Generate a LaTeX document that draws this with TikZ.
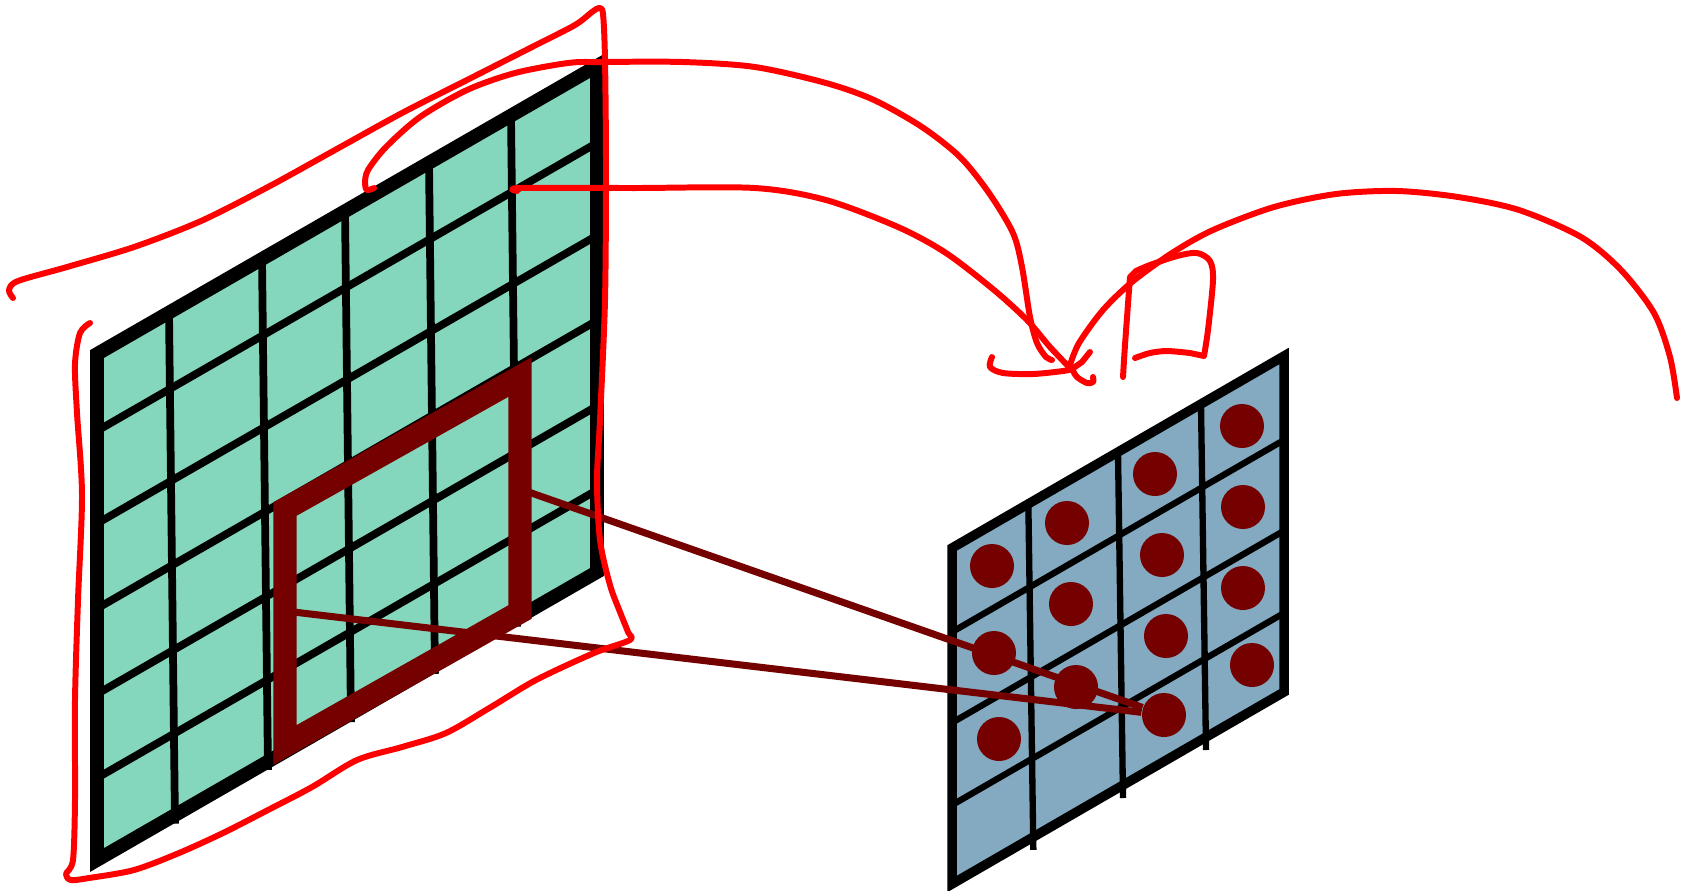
\documentclass[tikz,border=0pt]{standalone}
\usetikzlibrary{calc}
\definecolor{inputgreen}{RGB}{132,215,188}
\definecolor{featureblue}{RGB}{131,170,192}
\definecolor{darkmaroon}{RGB}{117,0,0}
\definecolor{inkred}{RGB}{255,0,0}

\begin{document}
\begin{tikzpicture}[
        x=0.01cm, y=-0.01cm,
        inputedge/.style={draw=black, line width=3.9pt},
        inputline/.style={draw=black, line width=2.2pt},
        featureedge/.style={draw=black, line width=2.7pt},
        featureline/.style={draw=black, line width=1.8pt},
        kernel/.style={draw=darkmaroon, line width=6.6pt},
        link/.style={draw=darkmaroon, line width=2pt},
        unit/.style={circle, fill=darkmaroon, inner sep=0pt, minimum size=0.44cm},
        ink/.style={draw=inkred, line width=1.7pt, line cap=round, line join=round}
    ]
    \useasboundingbox (0,0) rectangle (1690,890);

    \coordinate (b-tl) at (952,548);
    \coordinate (b-tr) at (1284,356);
    \coordinate (b-br) at (1284,692);
    \coordinate (b-bl) at (952,884);
    \fill[featureblue] (b-tl) -- (b-tr) -- (b-br) -- (b-bl) -- cycle;
    \foreach \t in {0.23,0.5,0.75}
        \draw[featureline] ($(b-tl)!\t!(b-tr)$) -- ($(b-bl)!\t!(b-br)+(5,10)$);
    \foreach \t in {0.25,0.52,0.765}
        \draw[featureline] ($(b-tl)!\t!(b-bl)$) -- ($(b-tr)!\t!(b-br)$);
    \draw[featureedge] (b-tl) -- (b-tr) -- (b-br) -- (b-bl) -- cycle;

    \foreach \n/\px/\py in {11/992/566, 12/994/653, 13/999/739,
            21/1067/523, 22/1071/604, 23/1076/687,
            31/1155/474, 32/1162/555, 33/1166/636, 34/1164/715,
            41/1242/426, 42/1243/507, 43/1243/588, 44/1252/665}
        \node[unit] (n\n) at (\px,\py) {};

    \coordinate (g-tl) at (97,354);
    \coordinate (g-tr) at (597,66);
    \coordinate (g-br) at (597,572);
    \coordinate (g-bl) at (97,860);
    \fill[inputgreen] (g-tl) -- (g-tr) -- (g-br) -- (g-bl) -- cycle;
    \foreach \t in {0.144,0.33,0.496,0.664,0.828}
        \draw[inputline] ($(g-tl)!\t!(g-tr)$) -- ($(g-bl)!\t!(g-br)+(6,5)$);
    \foreach \t in {0.152,0.335,0.503,0.672,0.838}
        \draw[inputline] ($(g-tl)!\t!(g-bl)$) -- ($(g-tr)!\t!(g-br)$);
    \draw[inputedge] (g-tl) -- (g-tr) -- (g-br) -- (g-bl) -- cycle;

    \coordinate (fr-a) at (520,489);
    \coordinate (fr-b) at (285,611);
    \draw[link] (fr-a) -- (n34);
    \draw[link] (fr-b) -- (n34);
    \draw[kernel] (285,509) -- (520,377) -- (520,612) -- (285,745) -- cycle;

    \draw[ink] plot[smooth, tension=0.5] coordinates {(13,298) (9,290) (18,281) (67,267) (134,247) (201,221) (268,187) (335,150) (402,113) (469,79) (536,45) (575,25) (592,12) (599,8) (603,14) (605,60) (606,167) (605,300) (600,420) (597,480) (600,540) (610,585) (620,612) (628,632) (630,640) (594,653) (536,680) (491,707) (446,733) (402,747) (357,760) (312,787) (268,810) (223,833) (179,853) (134,870) (89,878) (71,880) (66,874) (73,860) (75,800) (75,700) (78,600) (82,495) (77,413) (75,364) (80,333) (90,323)};
    \draw[ink] plot[smooth, tension=0.5] coordinates {(374,188) (367,190) (365,183) (368,170) (386,147) (420,117) (467,90) (515,73) (568,63) (601,62) (683,62) (755,67) (826,83) (874,100) (922,127) (960,157) (989,193) (1013,233) (1022,267) (1030,317) (1037,343) (1046,357) (1052,360)};
    \draw[ink] plot[smooth, tension=0.5] coordinates {(517,191) (520,188) (635,188) (755,188) (826,200) (898,227) (946,253) (994,290) (1027,320) (1050,347) (1071,369)};
    \draw[ink] plot[smooth, tension=0.5] coordinates {(992,357) (990,367) (1003,373) (1033,374) (1063,371) (1072,369)};
    \draw[ink] (1090,352) -- (1082,362) -- (1072,369);
    \draw[ink] plot[smooth, tension=0.5] coordinates {(1072,369) (1077,377) (1087,383) (1093,382) (1093,377)};
    \draw[ink] plot[smooth, tension=0.5] coordinates {(1677,398) (1670,357) (1654,313) (1621,270) (1581,237) (1519,210) (1458,197) (1397,191) (1336,194) (1274,207) (1213,230) (1172,253) (1132,282) (1103,310) (1079,343) (1070,365)};
    \draw[ink] plot[smooth, tension=0.4] coordinates {(1123,377) (1125,345) (1130,277)}
        -- plot[smooth, tension=0.5] coordinates {(1136,271) (1150,265) (1177,256) (1197,253) (1210,261) (1213,280) (1208,330) (1204,356)}
        -- plot[smooth, tension=0.5] coordinates {(1190,353) (1167,351) (1150,353) (1135,358)};
\end{tikzpicture}
\end{document}
